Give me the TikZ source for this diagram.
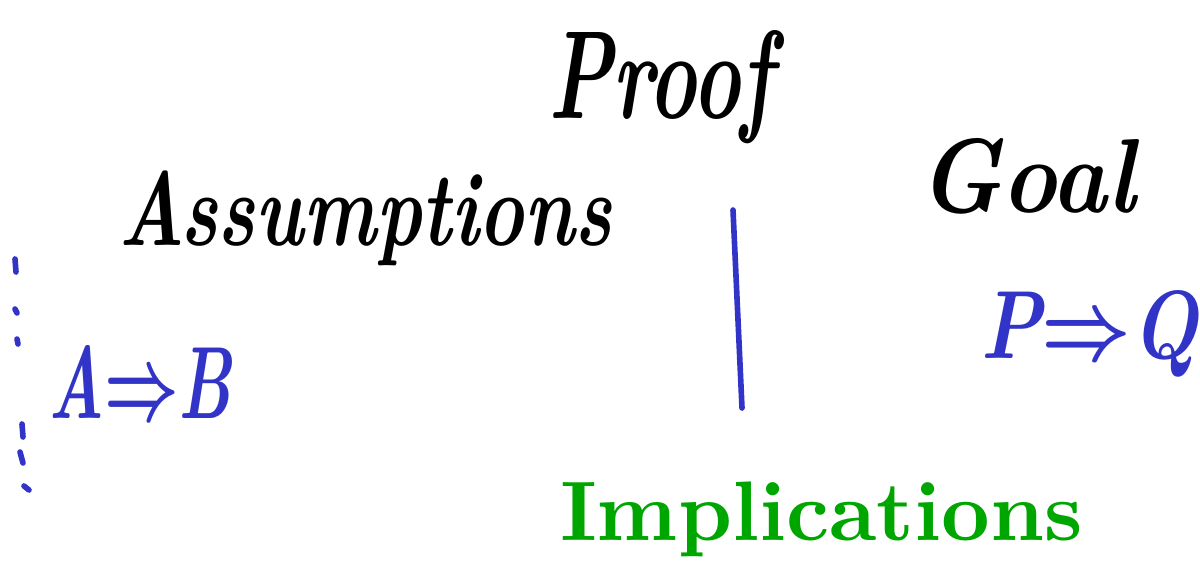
\documentclass[tikz,border=0pt]{standalone}
\usepackage{graphicx}
\newlength\pxu
\setlength\pxu{0.02cm}
\definecolor{penblue}{RGB}{50,52,200}
\definecolor{implgreen}{RGB}{0,166,0}
\tikzset{
  hand/.style={inner sep=0pt, outer sep=0pt, anchor=base west, font=\bfseries\itshape\mathversion{bold}},
  bluetext/.style={hand, text=penblue},
  penstroke/.style={draw=penblue, line width=3.2pt, line cap=round},
  title/.style={inner sep=0pt, outer sep=0pt, anchor=base west, text=implgreen, font=\bfseries}
}
\begin{document}
\begin{tikzpicture}[x=0.02cm,y=-0.02cm]
\useasboundingbox (0,0) rectangle (1200,562);
% handwritten headings
\node[hand] (proof) at (548,118) {\resizebox{225\pxu}{88\pxu}{Proof}};
\node[hand] (assump) at (118,245) {\resizebox*{494\pxu}{95\pxu}{Assumptions}};
\node[hand] (goal) at (918,212) {\resizebox{217\pxu}{74\pxu}{Goal}};
% blue formulas
\node[bluetext] (ab) at (48,418) {\resizebox{184\pxu}{73\pxu}{A$\Rightarrow$B}};
\node[bluetext] (pq) at (980,358) {\resizebox{218\pxu}{68\pxu}{P$\Rightarrow$Q}};
% divider
\coordinate (divtop) at (733,210);
\coordinate (divbot) at (742,408);
\draw[penstroke] (divtop) -- (divbot);
% dotted margin
\draw[penstroke] (15,259) -- (16,272);
\draw[penstroke] (15,309) -- (17,313);
\draw[penstroke] (17,339) -- (18,344);
\draw[penstroke] (22,424) -- (23,437);
\draw[penstroke] (20,452) -- (23,463);
\draw[penstroke] (24,486) -- (29,490);
% implications
\node[title] (impl) at (560,540) {\resizebox*{523\pxu}{75\pxu}{Implications}};
\end{tikzpicture}
\end{document}
